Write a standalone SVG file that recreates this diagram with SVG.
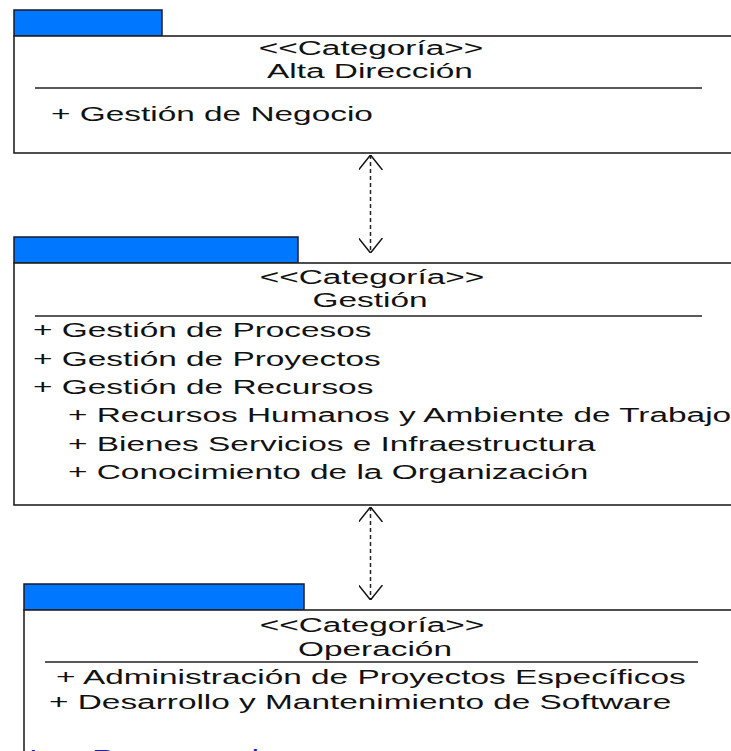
<svg xmlns="http://www.w3.org/2000/svg" width="731" height="751" viewBox="0 0 731 751">
<style>
.tab{fill:#0077ff;stroke:#1a1a2a;stroke-width:1.5}
.body{fill:#ffffff;stroke:#222;stroke-width:1.6}
.div{stroke:#222;stroke-width:1.4}
text{font-family:"Liberation Sans",Arial,sans-serif;font-size:21px;fill:#111}
.c{text-anchor:middle}
.conn{fill:none;stroke:#222;stroke-width:1.5;stroke-dasharray:4 3}
.link{fill:#1f1fa8}
</style>
<defs>
<marker id="open" viewBox="0 0 15 24" refX="15" refY="12" markerWidth="15" markerHeight="24" markerUnits="userSpaceOnUse" orient="auto-start-reverse">
<path d="M0,0 L15,12 L0,24" fill="none" stroke="#111" stroke-width="1.5" stroke-dasharray="none"/>
</marker>
</defs>
<rect width="731" height="751" fill="#ffffff"/>
<g id="alta-direccion">
<rect class="tab" x="14" y="10" width="148" height="26"/>
<rect class="body" x="14" y="36" width="740" height="117"/>
<text class="c" transform="translate(371,55) scale(1.59,1)">&lt;&lt;Categoría&gt;&gt;</text>
<text class="c" transform="translate(370,78) scale(1.59,1)">Alta Dirección</text>
<line class="div" x1="35" y1="88" x2="702" y2="88"/>
<text transform="translate(51,121) scale(1.59,1)">+ Gestión de Negocio</text>
</g>
<g id="gestion">
<rect class="tab" x="14" y="237" width="284" height="26"/>
<rect class="body" x="14" y="263" width="740" height="242"/>
<text class="c" transform="translate(372,284) scale(1.59,1)">&lt;&lt;Categoría&gt;&gt;</text>
<text class="c" transform="translate(370,307) scale(1.59,1)">Gestión</text>
<line class="div" x1="35" y1="316" x2="702" y2="316"/>
<text transform="translate(33,337) scale(1.59,1)">+ Gestión de Procesos</text>
<text transform="translate(33,366) scale(1.59,1)">+ Gestión de Proyectos</text>
<text transform="translate(33,394) scale(1.59,1)">+ Gestión de Recursos</text>
<text transform="translate(68,422) scale(1.59,1)">+ Recursos Humanos y Ambiente de Trabajo</text>
<text transform="translate(68,451) scale(1.59,1)">+ Bienes Servicios e Infraestructura</text>
<text transform="translate(68,479) scale(1.59,1)">+ Conocimiento de la Organización</text>
</g>
<g id="operacion">
<rect class="tab" x="24" y="584" width="280" height="26"/>
<rect class="body" x="24" y="610" width="740" height="200"/>
<text class="c" transform="translate(372,632) scale(1.59,1)">&lt;&lt;Categoría&gt;&gt;</text>
<text class="c" transform="translate(375,656) scale(1.59,1)">Operación</text>
<line class="div" x1="45" y1="662" x2="698" y2="662"/>
<text transform="translate(56,684) scale(1.59,1)">+ Administración de Proyectos Específicos</text>
<text transform="translate(49,709) scale(1.59,1)">+ Desarrollo y Mantenimiento de Software</text>
</g>
<g id="connectors">
<line class="conn" x1="370.5" y1="155" x2="370.5" y2="253" marker-start="url(#open)" marker-end="url(#open)"/>
<line class="conn" x1="370.5" y1="507" x2="370.5" y2="600" marker-start="url(#open)" marker-end="url(#open)"/>
</g>
<text class="link" transform="translate(29,764) scale(1.59,1)">Los Procesos de</text>
</svg>
